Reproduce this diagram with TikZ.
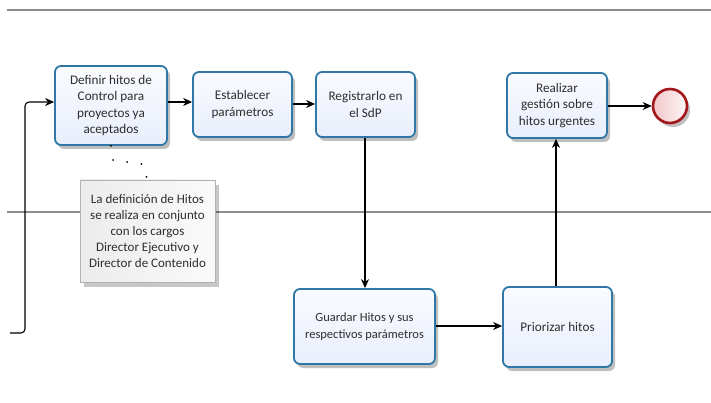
\documentclass[tikz,border=0pt]{standalone}
\usepackage{fontspec}
\setmainfont{Carlito}
\usetikzlibrary{arrows.meta,shadows,calc}
\definecolor{taskborder}{HTML}{2F78A6}
\definecolor{tasktop}{HTML}{FAFBFF}
\definecolor{taskbottom}{HTML}{E8EEFB}
\definecolor{laneline}{HTML}{8C8C8C}
\definecolor{endborder}{HTML}{A3161A}
\definecolor{endfill}{HTML}{F2C6C8}
\definecolor{txt}{HTML}{2E2E2E}
\tikzset{
  task/.style={draw=taskborder, line width=1.8pt, rounded corners=6pt,
    top color=tasktop, bottom color=taskbottom, align=center, text=txt,
    font=\fontsize{13.2}{16.5}\selectfont, inner sep=2pt,
    drop shadow={shadow xshift=3pt, shadow yshift=-4pt, opacity=0.25, fill=black}},
  narrowtext/.style={font=\fontsize{12.5}{16.5}\selectfont},
  note/.style={draw=gray!60, line width=0.8pt, left color=gray!15, right color=gray!4,
    align=center, text=txt, font=\fontsize{13}{16}\selectfont, inner sep=2pt,
    drop shadow={shadow xshift=4pt, shadow yshift=-5pt, opacity=0.22, fill=black}},
  flow/.style={draw=black, line width=1.1pt, -{Stealth[length=9pt,width=8pt]}},
  lane/.style={draw=laneline, line width=1.4pt},
  assoc/.style={draw=black, line width=2pt, line cap=round, dash pattern=on 0pt off 14.3pt},
}
\begin{document}
\begin{tikzpicture}[x=1pt,y=-1pt]
\useasboundingbox (0,0) rectangle (711,403);
\fill[white] (0,0) rectangle (711,403);

% lane separators
\draw[lane] (7,10) -- (711,10);
\draw[lane] (7,212) -- (711,212);

% activities
\node[task, minimum width=112pt, minimum height=79pt] (defn) at (111,105.5)
  {Definir hitos de\\Control para\\proyectos ya\\aceptados};
\node[task, minimum width=99pt, minimum height=65pt] (estab) at (242.5,104.5)
  {Establecer\\parámetros};
\node[task, minimum width=99pt, minimum height=65pt] (regis) at (365.5,104.5)
  {Registrarlo en\\el SdP};
\node[task, minimum width=100pt, minimum height=65pt] (realiz) at (557,105.5)
  {Realizar\\gestión sobre\\hitos urgentes};
\node[task, narrowtext, minimum width=141pt, minimum height=75pt] (guard) at (364.5,326.5)
  {Guardar Hitos y sus\\respectivos parámetros};
\node[task, minimum width=109pt, minimum height=80pt] (prior) at (557.5,327)
  {Priorizar hitos};

% end event
\node[circle, draw=endborder, line width=2.6pt, minimum size=34pt, inner sep=0pt,
  left color=endfill, right color=white!85!endfill,
  drop shadow={shadow xshift=3pt, shadow yshift=-4pt, opacity=0.25, fill=black}] (fin) at (670,106) {};

% annotation
\node[note, minimum width=135pt, minimum height=102pt] (nota) at (147.5,231)
  {La definición de Hitos\\se realiza en conjunto\\con los cargos\\Director Ejecutivo y\\Director de Contenido};

% association
\coordinate (a1) at (113,160);
\coordinate (a2) at (127,162);
\coordinate (a3) at (142,164);
\draw[assoc] (defn.south) -- (a1) -- (a2) -- (a3) -- (nota.north);

% sequence flows
\coordinate (entry) at (10,333);
\draw[flow, rounded corners=4pt] (entry) -- (25,333) -- (25,102) -- (defn.west |- 0,102);
\draw[flow] (defn.east |- 0,102) -- (estab.west |- 0,102);
\draw[flow] (estab.east |- 0,104) -- (regis.west |- 0,104);
\draw[flow] (regis.south -| 365,0) -- (guard.north -| 365,0);
\draw[flow] (guard.east |- 0,326) -- (prior.west |- 0,326);
\draw[flow] (prior.north -| 556,0) -- (realiz.south -| 556,0);
\draw[flow] (realiz.east |- 0,106) -- (fin.west);
\end{tikzpicture}
\end{document}
